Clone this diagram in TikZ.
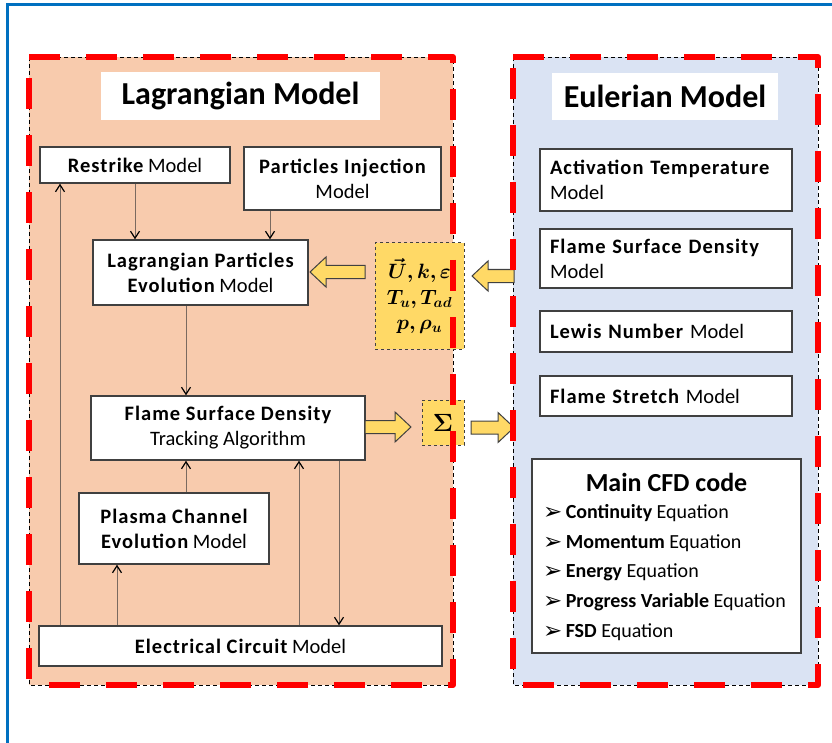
\documentclass[tikz,border=0pt]{standalone}
\usepackage{fontspec}
\setmainfont{Carlito}
\newfontfamily\symfont{DejaVu Sans}
\usepackage{amsmath,bm}
\usetikzlibrary{arrows.meta}
\definecolor{lagfill}{HTML}{F8CBAD}
\definecolor{eulfill}{HTML}{DAE3F3}
\definecolor{yel}{HTML}{FFD966}
\definecolor{frameblue}{HTML}{0070C0}
\definecolor{boxline}{HTML}{404040}
\definecolor{conn}{HTML}{7A6A60}
\newcommand\bb[1]{{\bfseries\addfontfeature{LetterSpace=5}#1}}
\newcommand\bul{\raisebox{-1pt}{\symfont\fontsize{23}{23}\selectfont ➢}}
\newcommand\blockarrow[3]{%
  \pgfmathsetmacro\bh{#2>#1 ? #2-16 : #2+16}%
  \draw[blkarr] (#1,#3-6.5) -- (\bh,#3-6.5) -- (\bh,#3-15) -- (#2,#3) -- (\bh,#3+15) -- (\bh,#3+6.5) -- (#1,#3+6.5) -- cycle;}
\tikzset{
  wbox/.style={draw=boxline, line width=1.4pt, fill=white, inner sep=0pt, align=center, font=\fontsize{20.5}{25}\selectfont},
  lbox/.style={wbox, align=left, text width=#1, inner xsep=10pt},
  title/.style={fill=white, inner sep=0pt, font=\bfseries\fontsize{32}{36}\selectfont},
  ybox/.style={draw=boxline, line width=1pt, dashed, fill=yel, inner sep=0pt},
  conarr/.style={draw=conn, line width=0.9pt, -{Straight Barb[length=7pt,width=9pt,line width=1.2pt,color=black]}},
  blkarr/.style={draw=boxline, line width=1pt, fill=yel, line join=miter},
  reddash/.style={draw=red, line width=6pt, dash pattern=on 31pt off 26pt, line join=round},
  thindash/.style={draw=black, line width=0.8pt, dash pattern=on 4pt off 3pt},
}
\begin{document}
\begin{tikzpicture}[x=1pt,y=-1pt]
\useasboundingbox (0,0) rectangle (832,743);
% outer blue frame
\draw[frameblue, line width=3pt] (7,760) -- (7,5) -- (845,5);
% panels
\fill[lagfill] (29,57) rectangle (453,685);
\fill[eulfill] (513,57) rectangle (818,685);
\draw[thindash] (29,57) rectangle (453,685);
\draw[thindash] (513,57) rectangle (818,685);
% yellow boxes
\node[ybox, minimum width=89pt, minimum height=106pt, align=center, font=\fontsize{21}{27}\selectfont] (vars) at (419.5,296)
  {$\bm{\vec{U}, k, \varepsilon}$\\[-1pt] $\bm{T_u, T_{ad}}$\\[-2pt] $\bm{p, \rho_u}$};
\node[ybox, minimum width=42pt, minimum height=45pt, font=\fontsize{23}{26}\selectfont] (sig) at (443,422.5) {$\bm{\Sigma}$};
% titles
\node[title, minimum width=279pt, minimum height=48pt] (lagt) at (240.5,96) {Lagrangian Model};
\node[title, minimum width=226pt, minimum height=47pt] (eult) at (665,96.5) {Eulerian Model};
% left boxes
\node[wbox, minimum width=190pt, minimum height=36pt] (restrike) at (135,165) {\bb{Restrike} Model};
\node[wbox, minimum width=197pt, minimum height=63pt] (inject) at (342.5,178.5) {\bb{Particles Injection}\\ Model};
\node[wbox, minimum width=215pt, minimum height=65pt] (lpe) at (200.5,272.5) {\bb{Lagrangian Particles}\\ \bb{Evolution} Model};
\node[wbox, minimum width=274pt, minimum height=64pt] (fsd) at (228,428) {\bb{Flame Surface Density}\\ Tracking Algorithm};
\node[wbox, minimum width=190pt, minimum height=71pt] (plasma) at (174,528.5) {\bb{Plasma Channel}\\ \bb{Evolution} Model};
\node[wbox, minimum width=403pt, minimum height=40pt] (elec) at (240.5,646) {\bb{Electrical Circuit} Model};
% right boxes
\node[lbox=232pt, minimum height=62pt] (act) at (666,180) {\bb{Activation Temperature}\\ Model};
\node[lbox=232pt, minimum height=59pt] (fsdm) at (666,258.5) {\bb{Flame Surface Density}\\ Model};
\node[lbox=232pt, minimum height=41pt] (lewis) at (666,331.5) {\bb{Lewis Number} Model};
\node[lbox=232pt, minimum height=40pt] (stretch) at (666,396) {\bb{Flame Stretch} Model};
\node[wbox, minimum width=269pt, minimum height=194pt] (cfd) at (666.5,556) {};
\node[font=\bfseries\fontsize{26}{28}\selectfont, anchor=base] (cfdt) at (666.5,491) {Main CFD code};
\node[anchor=north west, align=left, inner sep=0pt, font=\fontsize{20}{29.8}\selectfont] (eqs) at (543,504)
 {\bul\,\textbf{Continuity} Equation\\
  \bul\,\textbf{Momentum} Equation\\
  \bul\,\textbf{Energy} Equation\\
  \bul\,\textbf{Progress Variable} Equation\\
  \bul\,\textbf{FSD} Equation};
% connector coordinates
\coordinate (xa) at (270,0);
\coordinate (xb) at (186,0);
\coordinate (xc) at (117,0);
\coordinate (xd) at (299,0);
\coordinate (xe) at (339,0);
\coordinate (xf) at (60,0);
\draw[conarr] (restrike.south) -- (restrike.south |- lpe.north);
\draw[conarr] (inject.south -| xa) -- (lpe.north -| xa);
\draw[conarr] (lpe.south -| xb) -- (fsd.north -| xb);
\draw[conarr] (plasma.north -| xb) -- (fsd.south -| xb);
\draw[conarr] (elec.north -| xc) -- (plasma.south -| xc);
\draw[conarr] (elec.north -| xd) -- (fsd.south -| xd);
\draw[conarr] (fsd.south -| xe) -- (elec.north -| xe);
\draw[conarr] (elec.north -| xf) -- (restrike.south -| xf);
% block arrows
\blockarrow{514}{472}{276}
\blockarrow{365}{310}{272}
\blockarrow{365}{411}{427}
\blockarrow{471}{514}{427.5}
% red dashed borders
\draw[reddash] (29,57) -- (453,57) -- (453,685) -- (29,685) -- cycle;
\draw[reddash] (513,57) -- (818,57) -- (818,685) -- (513,685) -- cycle;
\end{tikzpicture}
\end{document}
